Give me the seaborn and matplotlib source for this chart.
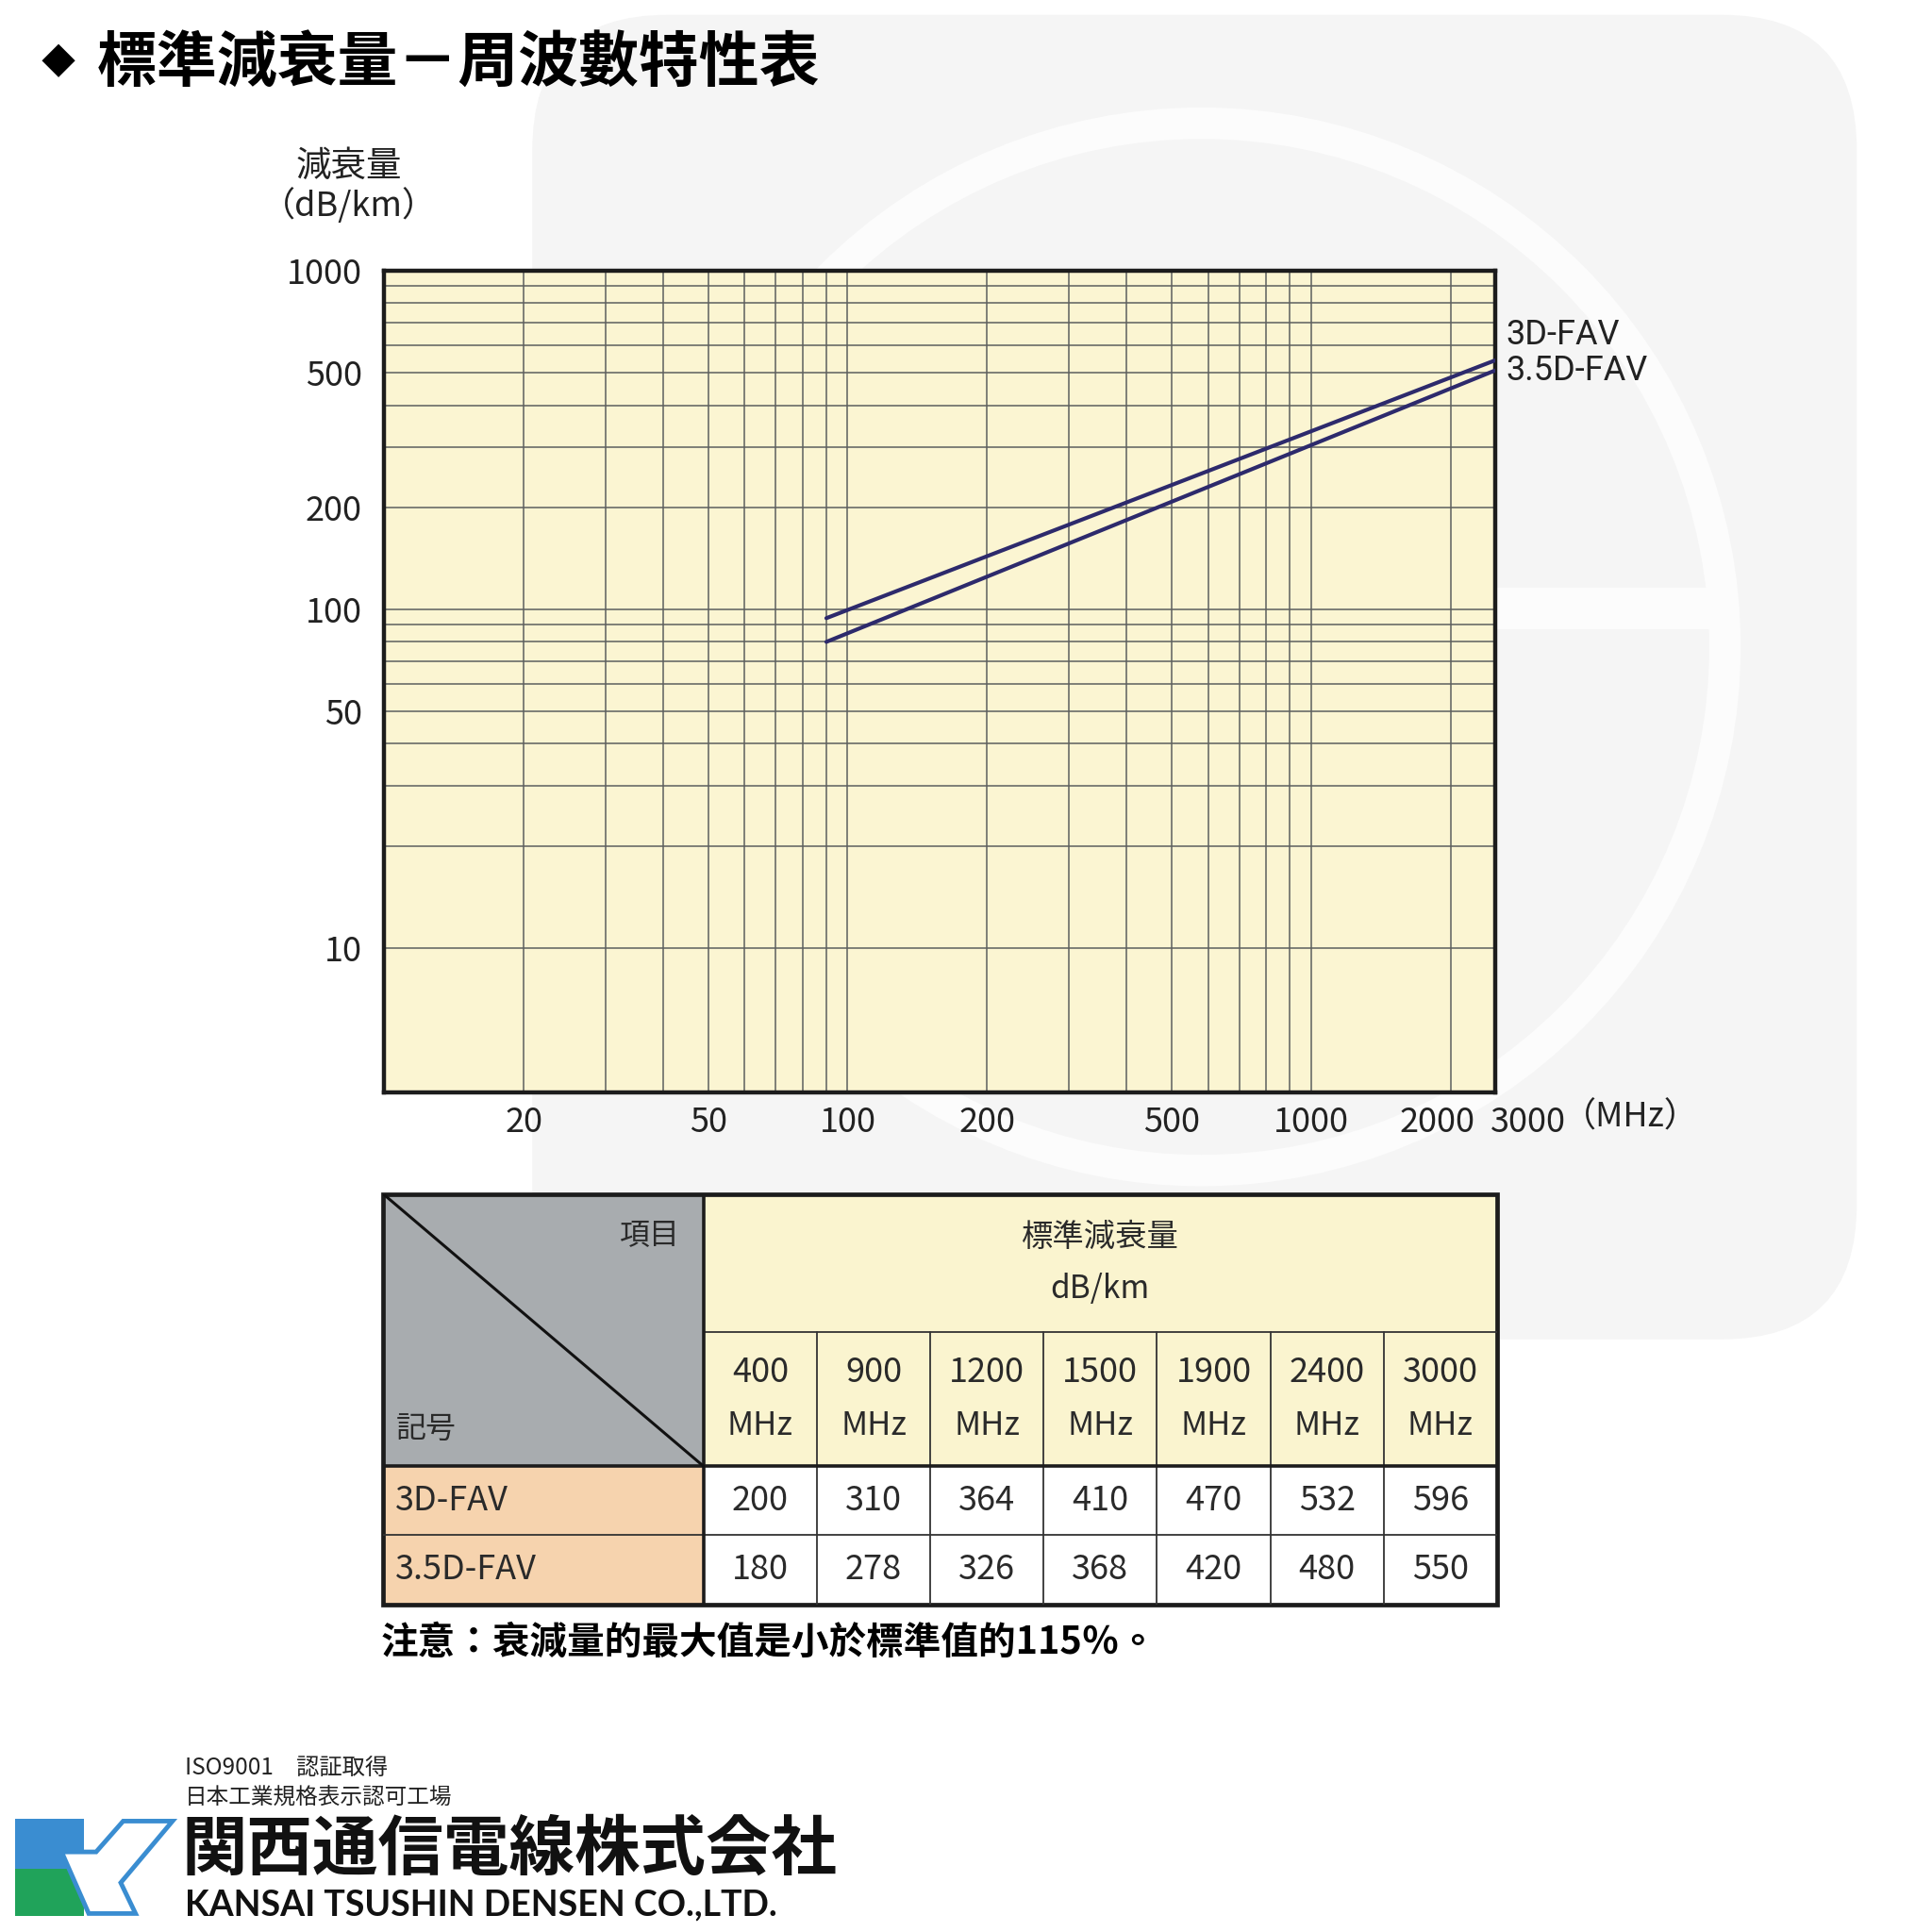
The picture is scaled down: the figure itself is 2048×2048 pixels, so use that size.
import numpy as np
import pandas as pd
import seaborn as sns
import matplotlib.pyplot as plt
import matplotlib.transforms as mtransforms
from matplotlib.patches import Rectangle, FancyBboxPatch, Circle, Polygon
from matplotlib.ticker import FixedLocator, NullFormatter

# chart lines (start ~90 MHz, end at right edge)
freq_mhz = [90, 2500]
att_3d = [94, 543]
att_35d = [80, 507]
cable_names = ['3D-FAV', '3.5D-FAV']

x_ticks = [20, 50, 100, 200, 500, 1000, 2000]
y_ticks = [10, 50, 100, 200, 500, 1000]

# table under the chart
table_freqs = [400, 900, 1200, 1500, 1900, 2400, 3000]
table_3d = [200, 310, 364, 410, 470, 532, 596]
table_35d = [180, 278, 326, 368, 420, 480, 550]

navy = '#2d2a6c'
cream = '#fbf5d2'
gridc = '#5d605e'

sns.set_theme(style='white')
plt.rcParams['font.family'] = ['Noto Sans CJK JP', 'DejaVu Sans']

fig = plt.figure(figsize=(20.48, 20.48), dpi=100)
fig.patch.set_facecolor('white')

W = 1568.0  # layout measured on a 1568 px wide copy


def fx(x):
    return x / W


def fy(y):
    return 1 - y / W


# background watermark + logo
bg = fig.add_axes([0, 0, 1, 1], zorder=0)
bg.set_xlim(0, W)
bg.set_ylim(W, 0)
bg.axis('off')
bg.add_patch(FancyBboxPatch((432, 12), 1075, 1075,
                            boxstyle='round,pad=0,rounding_size=110',
                            fc='#f5f5f5', ec='none'))
bg.add_patch(Circle((975, 525), 425, fill=False, ec='#fcfcfc', lw=24))
bg.add_patch(Rectangle((975, 477), 430, 34, fc='#fcfcfc', ec='none'))

bg.add_patch(Rectangle((12, 1476), 56, 41, fc='#3a8dd1', ec='none'))
bg.add_patch(Rectangle((12, 1517), 56, 38, fc='#20a35a', ec='none'))
bg.add_patch(Polygon([(50, 1503), (78, 1503), (100, 1478), (140, 1478),
                      (98, 1528), (110, 1553), (72, 1553)],
                     closed=True, fc='white', ec='#3a8dd1', lw=3.5))

# title
fig.text(fx(47), fy(52), '◆', fontsize=26, ha='center', va='center',
         family=['Noto Sans CJK TC', 'DejaVu Sans'], color='black')
fig.text(fx(79), fy(52), '標準減衰量－周波數特性表', fontsize=46,
         fontweight='bold', ha='left', va='center',
         family=['Noto Sans CJK TC', 'DejaVu Sans'], color='black')

# chart
ax = fig.add_axes([fx(311.8), fy(886.5), fx(1213.6 - 311.8), (886.5 - 219.5) / W],
                  zorder=2)
ax.set_facecolor(cream)

df = pd.DataFrame({
    'freq': freq_mhz + freq_mhz,
    'att': att_3d + att_35d,
    'cable': [cable_names[0]] * len(freq_mhz) + [cable_names[1]] * len(freq_mhz),
})
sns.lineplot(data=df, x='freq', y='att', hue='cable', palette=[navy, navy],
             lw=3.0, legend=False, ax=ax, zorder=5)

ax.set_xscale('log')
ax.set_yscale('log')
ax.set_xlim(10, 2500)
ax.set_ylim(3.74, 1000)

x_grid = [m * 10 ** e for e in (1, 2, 3) for m in range(1, 10) if 10 < m * 10 ** e < 2500]
y_grid = [m * 10 ** e for e in (1, 2) for m in range(1, 10)]

ax.xaxis.set_major_locator(FixedLocator(x_ticks))
ax.xaxis.set_major_formatter(plt.FixedFormatter([str(v) for v in x_ticks]))
ax.xaxis.set_minor_locator(FixedLocator(x_grid))
ax.xaxis.set_minor_formatter(NullFormatter())
ax.yaxis.set_major_locator(FixedLocator(y_ticks))
ax.yaxis.set_major_formatter(plt.FixedFormatter([str(v) for v in y_ticks]))
ax.yaxis.set_minor_locator(FixedLocator(y_grid))
ax.yaxis.set_minor_formatter(NullFormatter())

ax.grid(which='both', color=gridc, lw=1.1)
ax.tick_params(which='both', length=0, labelsize=26, colors='#222222')
ax.tick_params(axis='x', pad=10)
ax.tick_params(axis='y', pad=17)
ax.set_xlabel('')
ax.set_ylabel('')
for s in ax.spines.values():
    s.set_color('#1c1c1c')
    s.set_linewidth(3.2)
    s.set_visible(True)

# the "2000" label sits a little left of its line in the original
shift = mtransforms.ScaledTranslation(-0.14, 0, fig.dpi_scale_trans)
for t in ax.xaxis.get_majorticklabels():
    if t.get_text() == '2000':
        t.set_transform(t.get_transform() + shift)

ax.annotate('3000', xy=(3000, 0), xycoords=('data', 'axes fraction'),
            xytext=(-3, -10), textcoords='offset points', ha='center', va='top',
            fontsize=26, color='#222222', annotation_clip=False)
fig.text(fx(1268), fy(907), '（MHz）', fontsize=26, ha='left', va='center', color='#222222')

fig.text(fx(283), fy(135), '減衰量', fontsize=27, ha='center', va='center', color='#222222')
fig.text(fx(283), fy(167), '（dB/km）', fontsize=26, ha='center', va='center', color='#222222')

narrow = ['Liberation Sans Narrow', 'Roboto', 'DejaVu Sans']
fig.text(fx(1222), fy(272), cable_names[0], fontsize=26, ha='left', va='center',
         family=narrow, color='#222222')
fig.text(fx(1222), fy(301), cable_names[1], fontsize=26, ha='left', va='center',
         family=narrow, color='#222222')

# table
L, R, T, B = 311, 1215, 969, 1302
c0 = 571
cw = (R - c0) / len(table_freqs)
h1, h2, r1 = 1081, 1190, 1246

tax = fig.add_axes([fx(L), fy(B), fx(R - L), (B - T) / W], zorder=2)
tax.set_xlim(L, R)
tax.set_ylim(B, T)
tax.axis('off')

tax.add_patch(Rectangle((L, T), c0 - L, h2 - T, fc='#a8acaf', ec='none'))
tax.add_patch(Rectangle((c0, T), R - c0, h2 - T, fc='#faf4cf', ec='none'))
tax.add_patch(Rectangle((L, h2), c0 - L, B - h2, fc='#f6d3ae', ec='none'))
tax.add_patch(Rectangle((c0, h2), R - c0, B - h2, fc='white', ec='none'))

thin = dict(color='#333333', lw=1.3)
tax.plot([c0, R], [h1, h1], **thin)
tax.plot([L, R], [r1, r1], **thin)
for i in range(1, len(table_freqs)):
    xx = c0 + cw * i
    tax.plot([xx, xx], [h1, B], **thin)
tax.plot([L, R], [h2, h2], color='#1c1c1c', lw=2.6)
tax.plot([c0, c0], [T, B], color='#1c1c1c', lw=2.6)
tax.plot([L, c0], [T, h2], color='#111111', lw=2.2)
tax.add_patch(Rectangle((L, T), R - L, B - T, fill=False, ec='#1c1c1c', lw=3.4,
                        clip_on=False))

tc = '#2a2a2a'
tax.text(551, 1003, '項目', fontsize=23, ha='right', va='center', color=tc)
tax.text(321, 1160, '記号', fontsize=23, ha='left', va='center', color=tc)
tax.text((c0 + R) / 2, 1004, '標準減衰量', fontsize=24, ha='center', va='center', color=tc)
tax.text((c0 + R) / 2, 1046, 'dB/km', fontsize=24, ha='center', va='center', color=tc)
for i, f in enumerate(table_freqs):
    cx = c0 + cw * (i + 0.5)
    tax.text(cx, 1114, str(f), fontsize=26, ha='center', va='center', color=tc)
    tax.text(cx, 1157, 'MHz', fontsize=25, ha='center', va='center', color=tc)
    tax.text(cx, 1218, str(table_3d[i]), fontsize=26, ha='center', va='center', color=tc)
    tax.text(cx, 1274, str(table_35d[i]), fontsize=26, ha='center', va='center', color=tc)
tax.text(321, 1218, cable_names[0], fontsize=26, ha='left', va='center', color=tc)
tax.text(321, 1274, cable_names[1], fontsize=26, ha='left', va='center', color=tc)

fig.text(fx(309), fy(1333), '注意：衰減量的最大值是小於標準值的115％。', fontsize=28.5,
         fontweight='bold', ha='left', va='center',
         family=['Noto Sans CJK TC', 'DejaVu Sans'], color='black')

# footer
fig.text(fx(150), fy(1435), 'ISO9001　認証取得', fontsize=17.5, ha='left', va='center', color='#222222')
fig.text(fx(150), fy(1459), '日本工業規格表示認可工場', fontsize=17, ha='left', va='center', color='#222222')
fig.text(fx(147), fy(1502), '関西通信電線株式会社', fontsize=50, fontweight='bold',
         ha='left', va='center', color='#111111')
fig.text(fx(150), fy(1546), 'KANSAI TSUSHIN DENSEN CO.,LTD.', fontsize=27, fontweight='bold',
         ha='left', va='center', family=['Lato', 'DejaVu Sans'], color='#111111')

fig.savefig('out.png', dpi=100, facecolor='white')
